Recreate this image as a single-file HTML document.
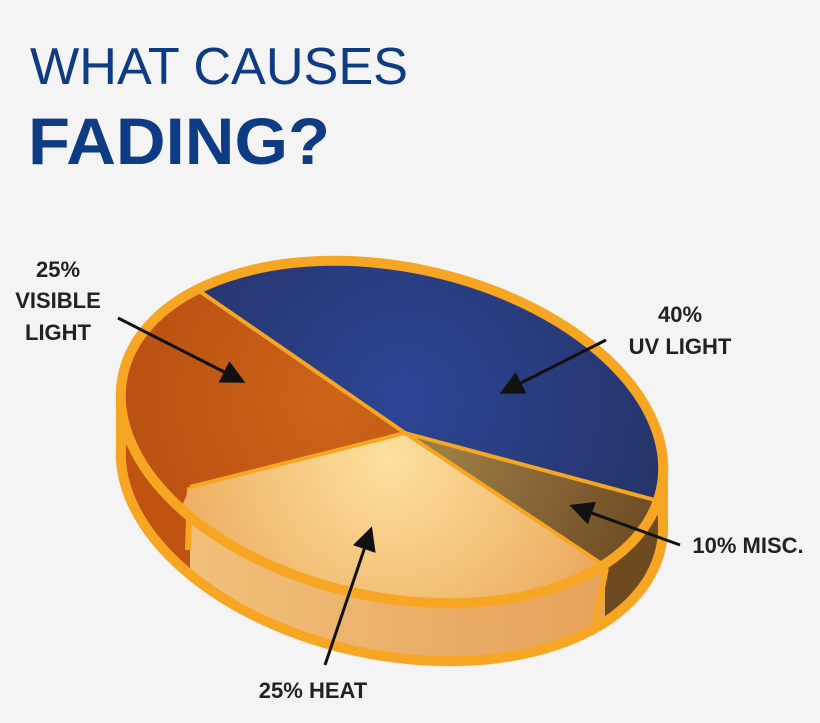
<!DOCTYPE html>
<html><head><meta charset="utf-8"><style>
html,body{margin:0;padding:0;background:#f4f4f4;}
body{width:820px;height:718px;overflow:hidden;font-family:"Liberation Sans",sans-serif;}
</style></head><body>
<svg width="820" height="718" viewBox="0 0 820 718" xmlns="http://www.w3.org/2000/svg">
<defs>
<radialGradient id="uv" cx="405" cy="400" r="300" gradientUnits="userSpaceOnUse">
<stop offset="0" stop-color="#2c4596"/><stop offset="1" stop-color="#253263"/></radialGradient>
<radialGradient id="heat" cx="390" cy="460" r="260" gradientUnits="userSpaceOnUse">
<stop offset="0" stop-color="#fde19f"/><stop offset="1" stop-color="#e9a355"/></radialGradient>
<radialGradient id="vis" cx="330" cy="400" r="220" gradientUnits="userSpaceOnUse">
<stop offset="0" stop-color="#cc6418"/><stop offset="1" stop-color="#b94f12"/></radialGradient>
<linearGradient id="misc" x1="450" y1="450" x2="660" y2="560" gradientUnits="userSpaceOnUse">
<stop offset="0" stop-color="#9a7c44"/><stop offset="1" stop-color="#6a4520"/></linearGradient>
<linearGradient id="heatside" x1="190" y1="0" x2="605" y2="0" gradientUnits="userSpaceOnUse">
<stop offset="0" stop-color="#f0c07a"/><stop offset="1" stop-color="#e6a25a"/></linearGradient>
<clipPath id="top"><ellipse cx="392" cy="432" rx="275" ry="165" transform="rotate(12 392 432)"/></clipPath>
<clipPath id="side">
<ellipse cx="392" cy="490" rx="275" ry="165" transform="rotate(12 392 490)"/>
<polygon points="121,396 663,468 663,526 121,454"/>
</clipPath>
<marker id="ah" markerWidth="8" markerHeight="8" refX="6" refY="4" orient="auto" markerUnits="strokeWidth">
<path d="M0,0 L8,4 L0,8 Z" fill="#111"/></marker>
</defs>
<text x="30" y="84" font-size="52" fill="#0d3b84" font-weight="300" textLength="378" lengthAdjust="spacingAndGlyphs">WHAT CAUSES</text>
<text x="28" y="164" font-size="66" fill="#0d3b84" font-weight="bold" textLength="302" lengthAdjust="spacingAndGlyphs">FADING?</text>

<g clip-path="url(#side)">
<rect x="100" y="380" width="90" height="300" fill="#c0530f"/>
<rect x="190" y="380" width="415" height="300" fill="url(#heatside)"/>
<rect x="605" y="380" width="80" height="300" fill="#6e4a20"/>
</g>
<ellipse cx="392" cy="490" rx="275" ry="165" transform="rotate(12 392 490)" fill="none" stroke="#f6a623" stroke-width="10"/>
<line x1="121" y1="396" x2="121" y2="454" stroke="#f6a623" stroke-width="10"/>
<line x1="663" y1="468" x2="663" y2="526" stroke="#f6a623" stroke-width="10"/>
<line x1="190" y1="487" x2="188" y2="550" stroke="#f6a623" stroke-width="6"/>
<line x1="606" y1="568" x2="595" y2="623" stroke="#f6a623" stroke-width="6"/>

<g clip-path="url(#top)">
<polygon points="405,433 195,288 100,240 700,240 700,500 655,500" fill="url(#uv)"/>
<polygon points="405,433 655,500 700,520 640,620 608,568" fill="url(#misc)"/>
<polygon points="405,433 608,568 620,700 100,700 190,487" fill="url(#heat)"/>
<polygon points="405,433 190,487 80,500 80,250 195,288" fill="url(#vis)"/>
</g>
<g stroke="#f6a623" stroke-width="4" fill="none">
<line x1="405" y1="433" x2="195" y2="288"/>
<line x1="405" y1="433" x2="655" y2="500"/>
<line x1="405" y1="433" x2="608" y2="568"/>
<line x1="405" y1="433" x2="190" y2="487"/>
</g>
<ellipse cx="392" cy="432" rx="275" ry="165" transform="rotate(12 392 432)" fill="none" stroke="#f6a623" stroke-width="10"/>

<g stroke="#111" stroke-width="3" marker-end="url(#ah)">
<line x1="118" y1="318" x2="240" y2="380"/>
<line x1="606" y1="340" x2="505" y2="391"/>
<line x1="680" y1="545" x2="575" y2="507"/>
<line x1="325" y1="665" x2="370" y2="532"/>
</g>
<g font-size="22" font-weight="bold" fill="#222" text-anchor="middle">
<text x="58" y="277">25%</text>
<text x="58" y="308">VISIBLE</text>
<text x="58" y="340">LIGHT</text>
<text x="680" y="322">40%</text>
<text x="680" y="354">UV LIGHT</text>
<text x="748" y="553">10% MISC.</text>
<text x="313" y="698">25% HEAT</text>
</g>
</svg>
</body></html>
